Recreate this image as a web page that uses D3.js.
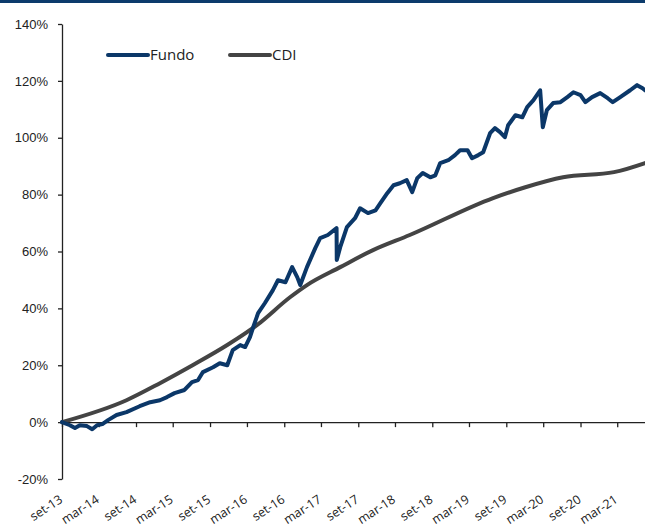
<!DOCTYPE html>
<html>
<head>
<meta charset="utf-8">
<script src="https://cdn.jsdelivr.net/npm/d3@7"></script>
<style>
  body { margin: 0; background: #fff; }
  svg { display: block; font-family: 'Open Sans', 'DejaVu Sans', sans-serif; }
</style>
</head>
<body>
<div id="chart"></div>
<script>
// Fundo (cota acumulada, %)
const fundoDates = [
  '2013-09-01', '2013-10-10', '2013-11-04', '2013-11-28', '2014-01-02', '2014-01-28', '2014-02-21',
  '2014-03-19', '2014-04-16', '2014-05-28', '2014-07-16', '2014-09-19', '2014-11-10', '2014-12-28',
  '2015-02-01', '2015-03-10', '2015-04-28', '2015-06-04', '2015-07-04', '2015-07-28', '2015-09-16',
  '2015-10-19', '2015-11-25', '2015-12-22', '2016-01-28', '2016-02-21', '2016-03-16', '2016-04-01',
  '2016-04-25', '2016-05-28', '2016-07-07', '2016-08-01', '2016-09-07', '2016-10-10', '2016-11-04',
  '2016-11-19', '2016-12-22', '2017-02-01', '2017-02-25', '2017-04-04', '2017-05-17', '2017-05-18',
  '2017-06-04', '2017-07-07', '2017-08-16', '2017-09-10', '2017-10-19', '2017-11-25', '2017-12-19',
  '2018-01-22', '2018-02-22', '2018-03-25', '2018-04-28', '2018-05-25', '2018-06-19', '2018-07-16',
  '2018-08-22', '2018-09-16', '2018-10-10', '2018-11-19', '2018-12-22', '2019-01-16', '2019-02-22',
  '2019-03-16', '2019-04-16', '2019-05-10', '2019-06-13', '2019-07-07', '2019-08-01', '2019-08-25',
  '2019-09-10', '2019-10-16', '2019-11-19', '2019-12-13', '2020-01-13', '2020-02-15', '2020-02-28',
  '2020-03-19', '2020-04-19', '2020-05-25', '2020-06-28', '2020-07-28', '2020-09-01', '2020-09-25',
  '2020-10-28', '2020-12-07', '2021-01-13', '2021-02-07', '2021-03-16', '2021-05-04', '2021-06-07',
  '2021-07-04', '2021-07-16'
];
const fundoValues = [
  0, -1.1, -2.1, -1.1, -1.4, -2.5, -1.1,
  -0.7, 0.7, 2.5, 3.5, 5.6, 7.0, 7.7,
  8.8, 10.2, 11.3, 14.1, 14.8, 17.6, 19.3,
  20.7, 20.0, 25.3, 27.1, 26.4, 29.9, 33.4,
  38.3, 41.8, 46.4, 49.9, 49.2, 54.5, 51.0,
  48.2, 54.5, 61.2, 64.7, 65.8, 68.2, 57.0,
  61.5, 68.6, 71.7, 75.2, 73.5, 74.5, 77.0,
  80.5, 83.3, 84.0, 85.1, 80.9, 85.8, 87.6,
  86.1, 86.8, 91.1, 92.1, 93.9, 95.6, 95.6,
  92.8, 93.9, 94.9, 101.6, 103.4, 102.0, 100.2,
  104.4, 107.9, 107.2, 110.8, 113.2, 116.7, 103.7,
  109.7, 112.2, 112.5, 114.3, 116.0, 115.0, 112.5,
  114.3, 115.7, 113.9, 112.5, 114.3, 116.7, 118.5,
  117.4, 116.7
];

// CDI acumulado (%)
const cdiDates = [
  '2013-09-01', '2014-07-16', '2014-12-28', '2015-06-07', '2015-11-25', '2016-04-19', '2016-10-01',
  '2016-12-22', '2017-06-04', '2017-11-13', '2018-05-13', '2019-06-28', '2019-12-04', '2020-06-07',
  '2021-02-13', '2021-07-16'
];
const cdiValues = [
  0, 7.7, 13.7, 20.0, 27.1, 34.1, 44.0,
  48.2, 54.5, 60.5, 65.8, 78.8, 82.6, 86.1,
  87.9, 91.1
];

const xTickDates = [
  '2013-09-01', '2014-03-01', '2014-09-01', '2015-03-01', '2015-09-01', '2016-03-01', '2016-09-01',
  '2017-03-01', '2017-09-01', '2018-03-01', '2018-09-01', '2019-03-01', '2019-09-01', '2020-03-01',
  '2020-09-01', '2021-03-01'
];
const xTickLabels = [
  'set-13', 'mar-14', 'set-14', 'mar-15', 'set-15', 'mar-16', 'set-16',
  'mar-17', 'set-17', 'mar-18', 'set-18', 'mar-19', 'set-19', 'mar-20',
  'set-20', 'mar-21'
];
const yTicks = [-20, 0, 20, 40, 60, 80, 100, 120, 140];

const seriesNames = ['Fundo', 'CDI'];
const seriesColors = ['#0b3768', '#444444'];

let [width, height] = [645, 529];
let parse = d3.timeParse('%Y-%m-%d');

let svg = d3.select('#chart').append('svg')
  .attr('width', width)
  .attr('height', height);

// top band
svg.append('rect')
  .attr('x', 0).attr('y', 0)
  .attr('width', width).attr('height', 3)
  .attr('fill', '#0c3b6c');

let x = d3.scaleTime()
  .domain([parse('2013-09-01'), parse('2021-07-16')])
  .range([62, 645]);

let y = d3.scaleLinear()
  .domain([-20, 140])
  .range([479, 24]);

// y axis
let yAxis = svg.append('g')
  .attr('transform', 'translate(62,0)')
  .call(d3.axisLeft(y).tickValues(yTicks).tickSize(4).tickSizeOuter(0).tickFormat(d => d + '%'));
yAxis.select('.domain').attr('stroke', '#222').attr('stroke-width', 1.3);
yAxis.selectAll('.tick line').attr('stroke', '#222').attr('stroke-width', 1.3);
yAxis.selectAll('.tick text')
  .attr('x', -14)
  .attr('fill', '#222')
  .style('font-size', '13px');

// x axis on the 0% line, labels drawn below the plot
let xAxis = svg.append('g')
  .attr('transform', 'translate(0,' + y(0) + ')')
  .call(d3.axisBottom(x).tickValues(xTickDates.map(parse)).tickSize(5).tickSizeOuter(0).tickFormat(''));
xAxis.select('.domain').attr('stroke', '#222').attr('stroke-width', 1.3);
xAxis.selectAll('.tick line').attr('stroke', '#222').attr('stroke-width', 1.3);

svg.append('g')
  .selectAll('text')
  .data(xTickDates)
  .enter()
  .append('text')
  .attr('transform', d => 'translate(' + (x(parse(d)) - 1) + ',' + 498 + ') rotate(-33)')
  .attr('text-anchor', 'end')
  .attr('dy', '0.35em')
  .attr('fill', '#222')
  .style('font-size', '12.5px')
  .text((d, i) => xTickLabels[i]);

// series
let line = d3.line()
  .x(d => x(d[0]))
  .y(d => y(d[1]));

let cdiLine = d3.line()
  .curve(d3.curveMonotoneX)
  .x(d => x(d[0]))
  .y(d => y(d[1]));

svg.append('path')
  .datum(cdiDates.map((d, i) => [parse(d), cdiValues[i]]))
  .attr('d', cdiLine)
  .attr('fill', 'none')
  .attr('stroke', seriesColors[1])
  .attr('stroke-width', 4)
  .attr('stroke-linecap', 'round');

svg.append('path')
  .datum(fundoDates.map((d, i) => [parse(d), fundoValues[i]]))
  .attr('d', line)
  .attr('fill', 'none')
  .attr('stroke', seriesColors[0])
  .attr('stroke-width', 4)
  .attr('stroke-linejoin', 'round')
  .attr('stroke-linecap', 'round');

// legend
let legend = svg.append('g')
  .selectAll('g')
  .data(seriesNames)
  .enter()
  .append('g')
  .attr('transform', (d, i) => 'translate(' + (108 + i * 122) + ',55)');

legend.append('line')
  .attr('x1', 0).attr('x2', 40)
  .attr('stroke', (d, i) => seriesColors[i])
  .attr('stroke-width', 4)
  .attr('stroke-linecap', 'round');

legend.append('text')
  .attr('x', 42)
  .attr('dy', '0.35em')
  .attr('fill', '#222')
  .style('font-size', '15px')
  .text(d => d);
</script>
</body>
</html>
